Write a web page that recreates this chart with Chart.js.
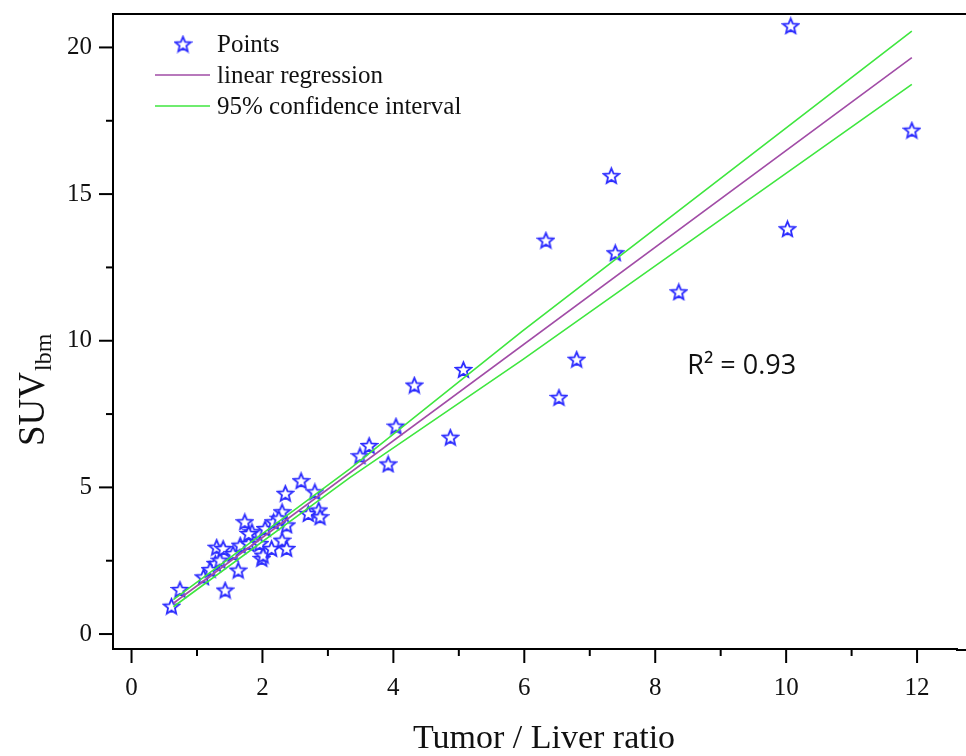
<!DOCTYPE html>
<html lang="en">
<head>
  <meta charset="UTF-8">
  <title>SUV lbm vs Tumor / Liver ratio</title>
  <script src="https://cdn.jsdelivr.net/npm/chart.js"></script>
  <style>
    html, body { margin: 0; padding: 0; background: #fff; }
    #wrap { width: 966px; height: 756px; }
  </style>
</head>
<body>
  <div id="wrap">
    <canvas id="myChart" width="966" height="756"></canvas>
  </div>

  <script>
    // measured points (Tumor/Liver ratio, SUV lbm)
    const pointsX = [10.07, 11.92, 7.33, 6.33, 7.39, 10.02, 8.36, 6.80, 6.53, 5.07, 4.32, 4.04, 4.87, 3.63, 3.49, 3.92,
      0.61, 0.74, 1.43, 1.10, 1.28, 1.35, 1.30, 1.40, 1.63, 1.66, 1.79, 1.73, 1.84, 1.96, 1.99, 2.01, 2.04,
      2.14, 2.17, 2.30, 2.37, 2.30, 2.37, 2.35, 2.59, 2.70, 2.80, 2.86, 2.88, 1.20, 1.55, 1.79, 2.25];
    const pointsY = [20.74, 17.18, 15.63, 13.43, 13.00, 13.82, 11.67, 9.37, 8.07, 9.02, 8.49, 7.09, 6.71, 6.43, 6.08, 5.80,
      0.95, 1.52, 1.50, 1.95, 2.41, 2.52, 2.96, 2.92, 2.18, 3.03, 3.09, 3.83, 3.49, 3.09, 2.58, 2.69, 3.60,
      2.92, 3.83, 3.20, 2.92, 4.17, 3.72, 4.80, 5.23, 4.11, 4.85, 4.23, 4.00, 2.20, 2.75, 3.43, 3.95];

    // regression line and 95% confidence band
    const regX = [0.64, 11.92];
    const regY = [1.05, 19.65];
    const ciX = [0.64, 3.34, 5.97, 11.92];
    const ciUpper = [1.17, 5.64, 10.33, 20.56];
    const ciLower = [0.93, 5.34, 9.35, 18.74];

    const xTicks = [0, 2, 4, 6, 8, 10, 12];
    const xMinor = [1, 3, 5, 7, 9, 11];
    const yTicks = [0, 5, 10, 15, 20];
    const yMinor = [2.5, 7.5, 12.5, 17.5];

    const labels = ['Points', 'linear regression', '95% confidence interval'];
    const r2Text = 'R\u00B2 = 0.93';

    const blue = '#2b2bff';
    const purple = '#a14ca6';
    const green = '#3fe63f';
    const serif = "'Liberation Serif', 'Times New Roman', serif";

    function makeStar(size, color) {
      const c = document.createElement('canvas');
      c.width = size; c.height = size;
      const g = c.getContext('2d');
      const cx = size / 2, cy = size / 2 + 0.8;
      const R = size / 2 - 1.5, r = R * 0.45;
      g.beginPath();
      for (let i = 0; i < 10; i++) {
        const a = -Math.PI / 2 + i * Math.PI / 5;
        const rad = i % 2 === 0 ? R : r;
        const px = cx + rad * Math.cos(a), py = cy + rad * Math.sin(a);
        if (i === 0) g.moveTo(px, py); else g.lineTo(px, py);
      }
      g.closePath();
      g.fillStyle = '#fff';
      g.fill();
      g.lineWidth = 1.8;
      g.strokeStyle = color;
      g.stroke();
      return c;
    }
    const starImg = makeStar(19, blue);

    const toXY = (xs, ys) => xs.map((x, i) => ({ x: x, y: ys[i] }));

    // kill the automatic label padding so the plot area sits where the reference has it
    function noPad(s) {
      s.paddingTop = 0; s.paddingBottom = 0; s.paddingLeft = 0; s.paddingRight = 0;
    }

    const extras = {
      id: 'extras',
      afterDraw(chart) {
        const ctx = chart.ctx;
        const xs = chart.scales.x, ys = chart.scales.y;
        const area = chart.chartArea;
        ctx.save();
        ctx.strokeStyle = '#000';

        // frame runs off the right edge of the picture
        ctx.lineWidth = 2;
        ctx.beginPath();
        ctx.moveTo(area.left - 1, area.top);
        ctx.lineTo(chart.width, area.top);
        ctx.moveTo(area.right - 1, area.bottom + 1);
        ctx.lineTo(chart.width, area.bottom + 1);
        ctx.stroke();

        // tick marks (outside)
        xTicks.concat(xMinor).forEach(v => {
          const len = xTicks.includes(v) ? 14 : 7;
          const p = xs.getPixelForValue(v);
          ctx.beginPath();
          ctx.moveTo(p, area.bottom);
          ctx.lineTo(p, area.bottom + len);
          ctx.stroke();
        });
        yTicks.concat(yMinor).forEach(v => {
          const len = yTicks.includes(v) ? 14 : 7;
          const p = ys.getPixelForValue(v);
          ctx.beginPath();
          ctx.moveTo(area.left, p);
          ctx.lineTo(area.left - len, p);
          ctx.stroke();
        });

        // legend
        ctx.fillStyle = '#111';
        ctx.font = '25px ' + serif;
        ctx.textBaseline = 'middle';
        ctx.textAlign = 'left';
        ctx.drawImage(starImg, 183 - starImg.width / 2, 44 - starImg.height / 2);
        ctx.fillText(labels[0], 217, 45);
        ctx.lineWidth = 1.6;
        ctx.strokeStyle = purple;
        ctx.beginPath(); ctx.moveTo(155, 75); ctx.lineTo(210, 75); ctx.stroke();
        ctx.fillText(labels[1], 217, 76);
        ctx.strokeStyle = green;
        ctx.beginPath(); ctx.moveTo(155, 106); ctx.lineTo(210, 106); ctx.stroke();
        ctx.fillText(labels[2], 217, 107);

        // R squared
        ctx.font = "27px 'Open Sans', 'Noto Sans', sans-serif";
        ctx.fillStyle = '#111';
        ctx.textBaseline = 'alphabetic';
        ctx.fillText(r2Text, xs.getPixelForValue(8.49), ys.getPixelForValue(8.85));

        // axis titles
        ctx.font = '34px ' + serif;
        ctx.textAlign = 'center';
        ctx.fillText('Tumor / Liver ratio', 544, 748);

        ctx.translate(44, 446);
        ctx.rotate(-Math.PI / 2);
        ctx.textAlign = 'left';
        ctx.font = '37px ' + serif;
        ctx.fillText('SUV', 0, 0);
        const w = ctx.measureText('SUV').width;
        ctx.font = '24px ' + serif;
        ctx.fillText('lbm', w + 1, 7);
        ctx.restore();
      }
    };

    const ctx = document.getElementById('myChart').getContext('2d');
    const chart = new Chart(ctx, {
      type: 'scatter',
      data: {
        datasets: [{
          label: labels[0],
          data: toXY(pointsX, pointsY),
          pointStyle: starImg,
          pointRadius: 8,
          showLine: false,
          order: 4
        }, {
          label: labels[1],
          data: toXY(regX, regY),
          showLine: true,
          borderColor: purple,
          borderWidth: 1.6,
          pointRadius: 0,
          order: 1
        }, {
          label: labels[2],
          data: toXY(ciX, ciUpper),
          showLine: true,
          borderColor: green,
          borderWidth: 1.6,
          pointRadius: 0,
          order: 2
        }, {
          label: labels[2],
          data: toXY(ciX, ciLower),
          showLine: true,
          borderColor: green,
          borderWidth: 1.6,
          pointRadius: 0,
          order: 3
        }]
      },
      options: {
        responsive: false,
        animation: false,
        layout: { padding: { top: 14, right: 0, left: 0, bottom: 0 } },
        plugins: { legend: { display: false }, tooltip: { enabled: false } },
        scales: {
          x: {
            type: 'linear',
            min: -0.283,
            max: 12.61,
            afterBuildTicks: s => { s.ticks = xTicks.map(v => ({ value: v })); },
            afterFit: s => { s.height = 107; noPad(s); },
            grid: { display: false, drawTicks: false },
            border: { display: true, color: '#000', width: 2 },
            ticks: { color: '#111', padding: 24, font: { family: serif, size: 25 } }
          },
          y: {
            type: 'linear',
            min: -0.51,
            max: 21.14,
            afterBuildTicks: s => { s.ticks = yTicks.map(v => ({ value: v })); },
            afterFit: s => { s.width = 113; noPad(s); },
            grid: { display: false, drawTicks: false },
            border: { display: true, color: '#000', width: 2 },
            ticks: { color: '#111', padding: 21, font: { family: serif, size: 25 } }
          }
        }
      },
      plugins: [extras]
    });
  </script>
</body>
</html>
